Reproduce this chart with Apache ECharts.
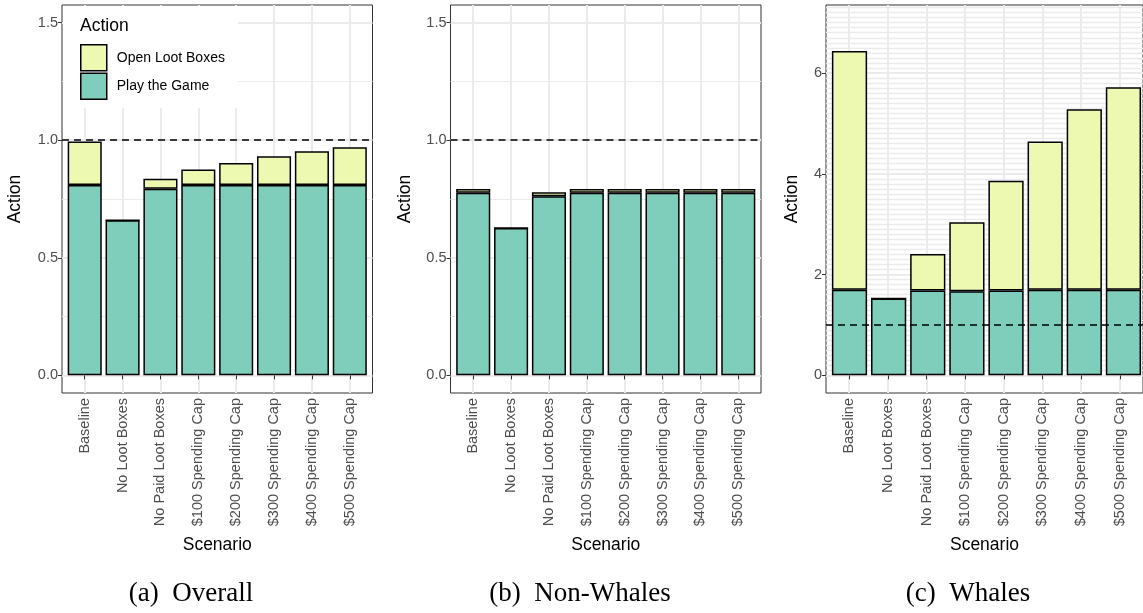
<!DOCTYPE html>
<html>
<head>
<meta charset="utf-8">
<script src="https://cdn.jsdelivr.net/npm/echarts@6/dist/echarts.min.js"></script>
<style>
  html, body { margin: 0; padding: 0; background: #ffffff; }
  #chart { width: 1143px; height: 613px; }
</style>
</head>
<body>
<div id="chart"></div>
<script>
// Scenario categories along the x axis
const scenarios = [
  'Baseline', 'No Loot Boxes', 'No Paid Loot Boxes', '$100 Spending Cap',
  '$200 Spending Cap', '$300 Spending Cap', '$400 Spending Cap', '$500 Spending Cap'
];

// (a) Overall
const overallPlay = [0.810, 0.660, 0.794, 0.810, 0.810, 0.810, 0.810, 0.810];
const overallLoot = [0.185, 0.000, 0.042, 0.065, 0.093, 0.122, 0.143, 0.160];

// (b) Non-Whales
const nonWhalePlay = [0.777, 0.627, 0.762, 0.777, 0.777, 0.777, 0.777, 0.777];
const nonWhaleLoot = [0.016, 0.000, 0.017, 0.016, 0.016, 0.016, 0.016, 0.016];

// (c) Whales
const whalePlay = [1.700, 1.525, 1.683, 1.670, 1.683, 1.700, 1.700, 1.700];
const whaleLoot = [4.736, 0.000, 0.727, 1.370, 2.177, 2.940, 3.580, 4.017];

// Tick labels on the value axes
const shareTicks = [0, 0.5, 1.0, 1.5];
const shareMinor = [0.25, 0.75, 1.25];
const whaleTicks = [0, 2, 4, 6];

// Reference level drawn as a dashed line
const refLevel = 1;

const FONT = '"Liberation Sans", Arial, Helvetica, sans-serif';
const SERIF = '"Liberation Serif", "Times New Roman", serif';
const PLAY_COLOR = '#7fcdbb';
const LOOT_COLOR = '#edf8b1';
const GRID_COLOR = '#ebebeb';

// whale panel has a dense set of fine horizontal rules
const whaleMinor = [];
for (let k = 1; k * 0.1 < 7.35; k++) {
  const v = +(k * 0.1).toFixed(2);
  if (whaleTicks.indexOf(v) < 0) whaleMinor.push(v);
}

// discrete positions of the categories on the frame axis (1..8, padded 0.6 each side)
const positions = scenarios.map((_, k) => k + 1);
const X_MIN = 0.4, X_MAX = scenarios.length + 0.6;
const X_SPAN = X_MAX - X_MIN;

const panels = [
  { left: 62,  width: 310.5, play: overallPlay,  loot: overallLoot,  min: -0.075, max: 1.575,
    ticks: shareTicks, minor: shareMinor, minorWidth: 1, digits: 1, nameGap: 38, caption: '(a)\u2002Overall', capX: 191 },
  { left: 450.5, width: 310.5, play: nonWhalePlay, loot: nonWhaleLoot, min: -0.075, max: 1.575,
    ticks: shareTicks, minor: shareMinor, minorWidth: 1, digits: 1, nameGap: 36, caption: '(b)\u2002Non-Whales', capX: 580 },
  { left: 826, width: 322, play: whalePlay, loot: whaleLoot, min: -0.35, max: 7.35,
    ticks: whaleTicks, minor: whaleMinor, minorWidth: 1.3, digits: 0, nameGap: 25, caption: '(c)\u2002Whales', capX: 968 }
];

const PANEL_TOP = 5;
const PANEL_HEIGHT = 388;

const grid = [], xAxis = [], yAxis = [], series = [], graphic = [];

panels.forEach((p, i) => {
  const unit = p.width / X_SPAN;
  const gFrame = 2 * i, gBars = 2 * i + 1;

  // frame: border, rules, ticks and labels
  grid.push({
    left: p.left, top: PANEL_TOP, width: p.width, height: PANEL_HEIGHT,
    show: true, borderColor: '#333333', borderWidth: 1, backgroundColor: 'transparent'
  });
  // bars: the category band area inside the frame
  grid.push({
    left: p.left + (1 - X_MIN - 0.5) * unit, top: PANEL_TOP,
    width: scenarios.length * unit, height: PANEL_HEIGHT, show: false
  });

  xAxis.push({
    type: 'value', gridIndex: gFrame, min: X_MIN, max: X_MAX,
    axisLine: { show: false },
    axisTick: { show: true, customValues: positions, length: 4, lineStyle: { color: '#333333', width: 1 } },
    axisLabel: {
      customValues: positions, rotate: 90, margin: 5,
      formatter: v => scenarios[Math.round(v) - 1] || '',
      fontFamily: FONT, fontSize: 14.5, color: '#4d4d4d'
    },
    splitLine: { show: true, lineStyle: { color: GRID_COLOR, width: 2 } },
    name: 'Scenario', nameLocation: 'middle', nameGap: 143,
    nameTextStyle: { fontFamily: FONT, fontSize: 17.5, color: '#000000' }
  });
  xAxis.push({
    type: 'category', gridIndex: gBars, data: scenarios, show: false,
    boundaryGap: true
  });

  // major axis
  yAxis.push({
    type: 'value', gridIndex: gFrame, min: p.min, max: p.max, position: 'left',
    axisLine: { show: false },
    axisTick: { show: true, customValues: p.ticks, length: 4, lineStyle: { color: '#333333', width: 1 } },
    axisLabel: {
      customValues: p.ticks, margin: 4,
      formatter: v => Number(v).toFixed(p.digits),
      fontFamily: FONT, fontSize: 14.5, color: '#4d4d4d'
    },
    splitLine: { show: true, lineStyle: { color: GRID_COLOR, width: 2 } },
    name: 'Action', nameLocation: 'middle', nameGap: p.nameGap, nameRotate: 90,
    nameTextStyle: { fontFamily: FONT, fontSize: 17.5, color: '#000000' }
  });
  // minor rules
  yAxis.push({
    type: 'value', gridIndex: gFrame, min: p.min, max: p.max, position: 'left',
    axisLine: { show: false },
    axisTick: { show: false, customValues: p.minor },
    axisLabel: { show: false, customValues: p.minor },
    splitLine: { show: true, lineStyle: { color: GRID_COLOR, width: p.minorWidth } }
  });
  // value axis for the bars
  yAxis.push({
    type: 'value', gridIndex: gBars, min: p.min, max: p.max, show: false,
    splitLine: { show: false }
  });

  const common = {
    type: 'bar', xAxisIndex: gBars, yAxisIndex: 3 * i + 2, stack: 'panel' + i,
    barCategoryGap: '10%', silent: true, animation: false,
    emphasis: { disabled: true }
  };
  series.push(Object.assign({}, common, {
    name: 'Play the Game',
    data: p.play,
    itemStyle: { color: PLAY_COLOR, borderColor: '#000000', borderWidth: 1.5 }
  }));
  series.push(Object.assign({}, common, {
    name: 'Open Loot Boxes',
    data: p.loot,
    itemStyle: { color: LOOT_COLOR, borderColor: '#000000', borderWidth: 1.5 }
  }));
  // dashed reference rule across the whole frame
  series.push({
    type: 'line', xAxisIndex: gFrame, yAxisIndex: 3 * i, data: [], silent: true,
    markLine: {
      silent: true, symbol: ['none', 'none'], label: { show: false }, z: 6,
      lineStyle: { type: [7, 5], color: '#000000', width: 1.5 },
      emphasis: { disabled: true },
      data: [{ yAxis: refLevel }]
    }
  });

  graphic.push({
    type: 'text', x: p.capX, y: 594, silent: true,
    style: { text: p.caption, fontFamily: SERIF, fontSize: 27, fill: '#000000',
             textAlign: 'center', textVerticalAlign: 'middle' }
  });
});

// legend box inside the first panel
graphic.push({
  type: 'rect', silent: true, z: 3,
  shape: { x: 63, y: 6, width: 175, height: 102 },
  style: { fill: '#ffffff' }
});
graphic.push({
  type: 'text', silent: true, z: 4, x: 80, y: 17,
  style: { text: 'Action', fontFamily: FONT, fontSize: 17.5, fill: '#000000', textVerticalAlign: 'top' }
});

const option = {
  animation: false,
  backgroundColor: '#ffffff',
  grid, xAxis, yAxis, series, graphic,
  legend: {
    data: ['Open Loot Boxes', 'Play the Game'],
    orient: 'vertical', left: 80, top: 44, z: 5, padding: 0,
    itemWidth: 26, itemHeight: 26, itemGap: 1,
    icon: 'rect', selectedMode: false,
    itemStyle: { borderColor: '#000000', borderWidth: 1.5 },
    textStyle: { fontFamily: FONT, fontSize: 14, color: '#000000', padding: [0, 0, 0, 5] }
  }
};

const chart = echarts.init(document.getElementById('chart'), null, { renderer: 'canvas' });
chart.setOption(option);
</script>
</body>
</html>
